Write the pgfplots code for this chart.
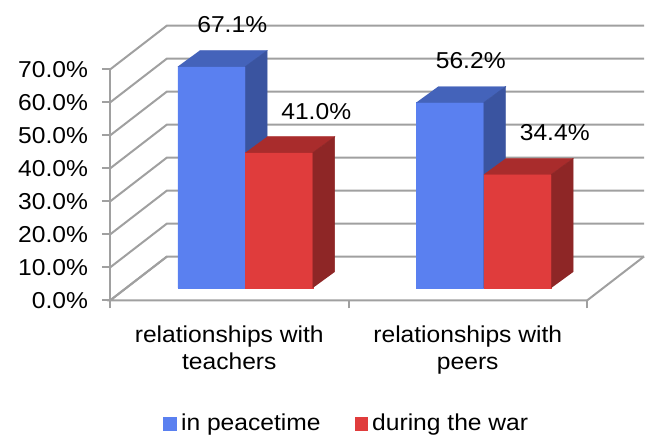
\documentclass[border=0pt]{standalone}
\usepackage{pgfplots}
\pgfplotsset{compat=1.18}
\usepackage{fontspec}
\setmainfont{Liberation Sans}[FakeStretch=1.07]
\definecolor{blueF}{HTML}{5A80F0}
\definecolor{blueT}{HTML}{4463BA}
\definecolor{blueS}{HTML}{3A54A0}
\definecolor{redF}{HTML}{E03C3C}
\definecolor{redT}{HTML}{A92C2C}
\definecolor{redS}{HTML}{8E2626}
\definecolor{gridgray}{HTML}{A0A0A0}
\newcommand\cf{\fontsize{11.5}{13.5}\selectfont}
\begin{document}
\begin{tikzpicture}
\useasboundingbox (-55pt,-68.25pt) rectangle (270.5pt,150.25pt);
% walls, floor and axes
\begin{axis}[
  at={(0pt,0pt)}, anchor=south west,
  x=119.25pt, y=1.65pt,
  xmin=0, xmax=2.239, ymin=0, ymax=83.33,
  enlargelimits=false, clip=false,
  axis x line*=bottom, axis y line*=left,
  axis line style={draw=none},
  tick align=outside, major tick length=4pt,
  tick style={draw=gridgray, line width=1pt},
  ytick={0,10,...,70},
  yticklabel={\pgfmathprintnumber[fixed,fixed zerofill,precision=1]{\tick}\%},
  yticklabel style={font=\cf, xshift=-3.5pt},
  xtick={0,1,2}, xticklabels={},
  extra x ticks={0.5,1.5},
  extra x tick labels={{relationships with\\teachers},{relationships with\\peers}},
  extra x tick style={major tick length=0pt,
    xticklabel style={align=center, font=\cf, yshift=-9pt}},
  /pgf/number format/assume math mode=true,
  no markers,
  wall/.style={draw=gridgray, line width=1pt, mark=none},
]
\addplot[wall] coordinates {(0,0) (0,70)};
\addplot[wall] coordinates {(0.239,13.33) (0,0) (2,0) (2.239,13.33)};
\addplot[wall] coordinates {(0,0) (0.239,13.33) (2.239,13.33)};
\addplot[wall] coordinates {(0,10) (0.239,23.33) (2.239,23.33)};
\addplot[wall] coordinates {(0,20) (0.239,33.33) (2.239,33.33)};
\addplot[wall] coordinates {(0,30) (0.239,43.33) (2.239,43.33)};
\addplot[wall] coordinates {(0,40) (0.239,53.33) (2.239,53.33)};
\addplot[wall] coordinates {(0,50) (0.239,63.33) (2.239,63.33)};
\addplot[wall] coordinates {(0,60) (0.239,73.33) (2.239,73.33)};
\addplot[wall] coordinates {(0,70) (0.239,83.33) (2.239,83.33)};
\end{axis}
% bars
\begin{axis}[
  at={(8pt,6.25pt)}, anchor=south west,
  x=119.25pt, y=1.65pt,
  xmin=0, xmax=2, ymin=0, ymax=80,
  enlargelimits=false, clip=false, hide axis,
  no markers,
  /pgf/number format/assume math mode=true,
  legend style={at={(0.465,-0.515)}, anchor=center, draw=none, fill=none,
    legend columns=2, font=\cf,
    /tikz/every even column/.append style={column sep=15pt}},
  legend image code/.code={\fill[#1,draw=none] (0pt,-3.4pt) rectangle (6.8pt,3.4pt);},
  lbl/.style={nodes near coords={\pgfmathprintnumber[fixed,fixed zerofill,precision=1]{\pgfplotspointmeta}\%},
    every node near coord/.append style={font=\cf, black, anchor=center, yshift=20.75pt, xshift=#1}},
]
% blue front faces
\addplot[ybar, bar width=0.283, bar shift=-0.1415, fill=blueF, draw=blueF, line width=0.2pt, lbl=-6.5pt]
  coordinates {(0.5,67.1) (1.5,56.2)};
\addlegendentry{in peacetime}
% blue top and side faces
\addplot[fill=blueT, draw=blueT, line width=0.2pt, forget plot] coordinates {(0.217,67.1) (0.5,67.1) (0.592,71.95) (0.309,71.95)};
\addplot[fill=blueS, draw=blueS, line width=0.2pt, forget plot] coordinates {(0.5,0) (0.5,67.1) (0.592,71.95) (0.592,4.85)};
\addplot[fill=blueT, draw=blueT, line width=0.2pt, forget plot] coordinates {(1.217,56.2) (1.5,56.2) (1.592,61.05) (1.309,61.05)};
\addplot[fill=blueS, draw=blueS, line width=0.2pt, forget plot] coordinates {(1.5,0) (1.5,56.2) (1.592,61.05) (1.592,4.85)};
% red front faces
\addplot[ybar, bar width=0.283, bar shift=0.1415, fill=redF, draw=redF, line width=0.2pt, lbl=35.5pt]
  coordinates {(0.5,41.0) (1.5,34.4)};
\addlegendentry{during the war}
% red top and side faces
\addplot[fill=redT, draw=redT, line width=0.2pt, forget plot] coordinates {(0.5,41.0) (0.783,41.0) (0.875,45.85) (0.592,45.85)};
\addplot[fill=redS, draw=redS, line width=0.2pt, forget plot] coordinates {(0.783,0) (0.783,41.0) (0.875,45.85) (0.875,4.85)};
\addplot[fill=redT, draw=redT, line width=0.2pt, forget plot] coordinates {(1.5,34.4) (1.783,34.4) (1.875,39.25) (1.592,39.25)};
\addplot[fill=redS, draw=redS, line width=0.2pt, forget plot] coordinates {(1.783,0) (1.783,34.4) (1.875,39.25) (1.875,4.85)};
\end{axis}
\end{tikzpicture}
\end{document}
